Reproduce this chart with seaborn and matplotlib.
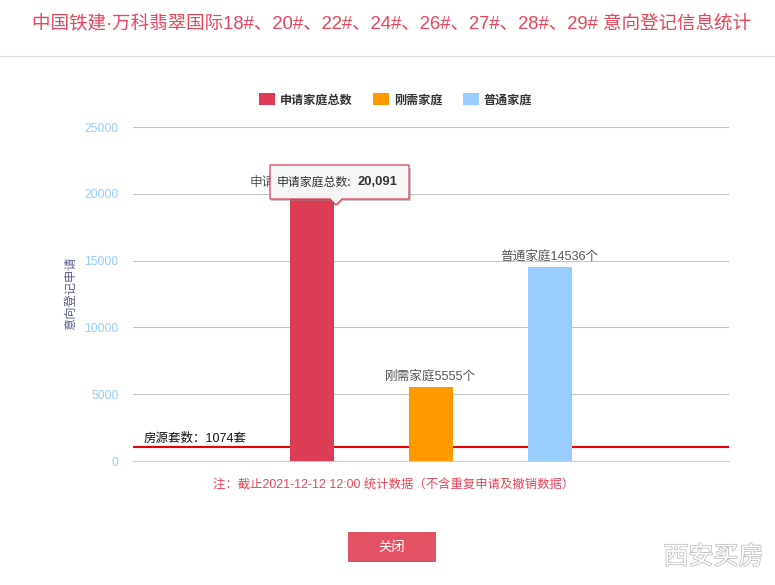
import matplotlib
matplotlib.use("Agg")
import matplotlib.pyplot as plt
import matplotlib.patheffects as pe
import pandas as pd
import seaborn as sns
from matplotlib.patches import Polygon, Rectangle
from matplotlib.lines import Line2D

categories = ["申请家庭总数", "刚需家庭", "普通家庭"]
values = [20091, 5555, 14536]
colors = ["#DC3C54", "#FF9900", "#99CCFF"]
bar_labels = ["申请家庭总数20091个", "刚需家庭5555个", "普通家庭14536个"]
y_ticks = [0, 5000, 10000, 15000, 20000, 25000]
supply = 1074
title = "中国铁建·万科翡翠国际18#、20#、22#、24#、26#、27#、28#、29# 意向登记信息统计"
ylabel = "意向登记申请"
supply_label = "房源套数：1074套"
note = "注：截止2021-12-12 12:00 统计数据（不含重复申请及撤销数据）"
button = "关闭"
watermark = "西安买房"
tip_name = "申请家庭总数:"
tip_value = "20,091"

sns.set_theme(style="white")
CJK = "Noto Sans CJK SC"
MIX = ["Liberation Sans", CJK, "DejaVu Sans"]
plt.rcParams["font.family"] = [CJK, "DejaVu Sans"]

W, H = 775, 585
fig = plt.figure(figsize=(W / 100, H / 100), dpi=100, facecolor="white")
ax = fig.add_axes([133 / W, 1 - 461 / H, 596 / W, 334 / H])

df = pd.DataFrame({"cat": categories, "val": values})
sns.barplot(data=df, x="cat", y="val", hue="cat", palette=colors, legend=False,
            width=0.37, saturation=1, linewidth=0, ax=ax, zorder=6)
ax.set_xlim(-1.5, 3.5)
ax.set_ylim(0, 25000)
ax.set_yticks(y_ticks)
ax.set_yticklabels([str(v) for v in y_ticks], fontsize=8.8, color="#99CCFF", family=MIX)
ax.set_xticks([])
ax.set_xlabel("")
ax.set_ylabel(ylabel, fontsize=8.8, color="#5A5F8C", labelpad=0)
ax.yaxis.set_label_coords((77 - 133) / 596, (461 - 293) / 334)
ax.tick_params(axis="y", length=0, pad=10.4)
ax.grid(axis="y", color="#C4C4C4", linewidth=0.75, zorder=0)
ax.set_axisbelow(True)
for s in ["top", "right", "left"]:
    ax.spines[s].set_visible(False)
ax.spines["bottom"].set_color("#C0D0E0")
ax.spines["bottom"].set_linewidth(0.75)

# value labels
for i, (v, lab) in enumerate(zip(values, bar_labels)):
    ax.text(i - 0.005, v + 290, lab, ha="center", va="bottom", fontsize=9.1, color="#555555",
            zorder=7, family=MIX)

# supply line, behind the bars
ax.axhline(supply, color="#EE0000", linewidth=1.5, zorder=5)
ax.text(-1.41, supply + 130, supply_label, fontsize=9.0, color="#111111", va="bottom", ha="left",
        zorder=7, family=MIX)

# overlay in pixel coordinates
ov = fig.add_axes([0, 0, 1, 1], facecolor="none")
ov.set_xlim(0, W)
ov.set_ylim(H, 0)
ov.axis("off")

# title block
ov.text(391.5, 24, title, ha="center", va="center", fontsize=13.35, color="#E8455A", family=MIX)
ov.add_line(Line2D([0, W], [55.5, 55.5], color="#E0E0E0", linewidth=0.9))

# legend
for x, c, lab in zip([259, 373, 463], colors, categories):
    ov.add_patch(Rectangle((x, 93), 16, 12, facecolor=c, edgecolor="none"))
    ov.text(x + 21, 100, lab, ha="left", va="center", fontsize=8.7, color="#333333", fontweight="bold")

# tooltip
ov.add_patch(Polygon([(271, 168), (271, 201), (333, 201), (338, 206), (343, 201), (411, 201), (411, 168)],
                     closed=True, facecolor="#888888", edgecolor="none", alpha=0.45, zorder=7))
ov.add_patch(Polygon([(270, 165), (409, 165), (409, 199), (342, 199), (336, 205), (330, 199), (270, 199)],
                     closed=True, facecolor="#FAFAFAF2", edgecolor="#DC3C54", linewidth=0.9, zorder=8))
ov.text(277, 182, tip_name, ha="left", va="center", fontsize=8.6, color="#333333", zorder=9)
ov.text(357, 182, tip_value, ha="left", va="center", fontsize=9.4, color="#333333", fontweight="bold",
        zorder=9, family=["Liberation Sans", "DejaVu Sans"])

# note
ov.text(213, 484.5, note, ha="left", va="center", fontsize=8.9, color="#E8455A", family=MIX)

# button
ov.add_patch(Rectangle((348, 532), 88, 30, facecolor="#E25264", edgecolor="none"))
ov.text(392, 547, button, ha="center", va="center", fontsize=9.6, color="white")

# watermark
ov.text(713.5, 557, watermark, ha="center", va="center", fontsize=18, color="white",
        path_effects=[pe.withStroke(linewidth=1.0, foreground="#B5B5B5")])

fig.savefig("out.png", dpi=100, facecolor="white")
